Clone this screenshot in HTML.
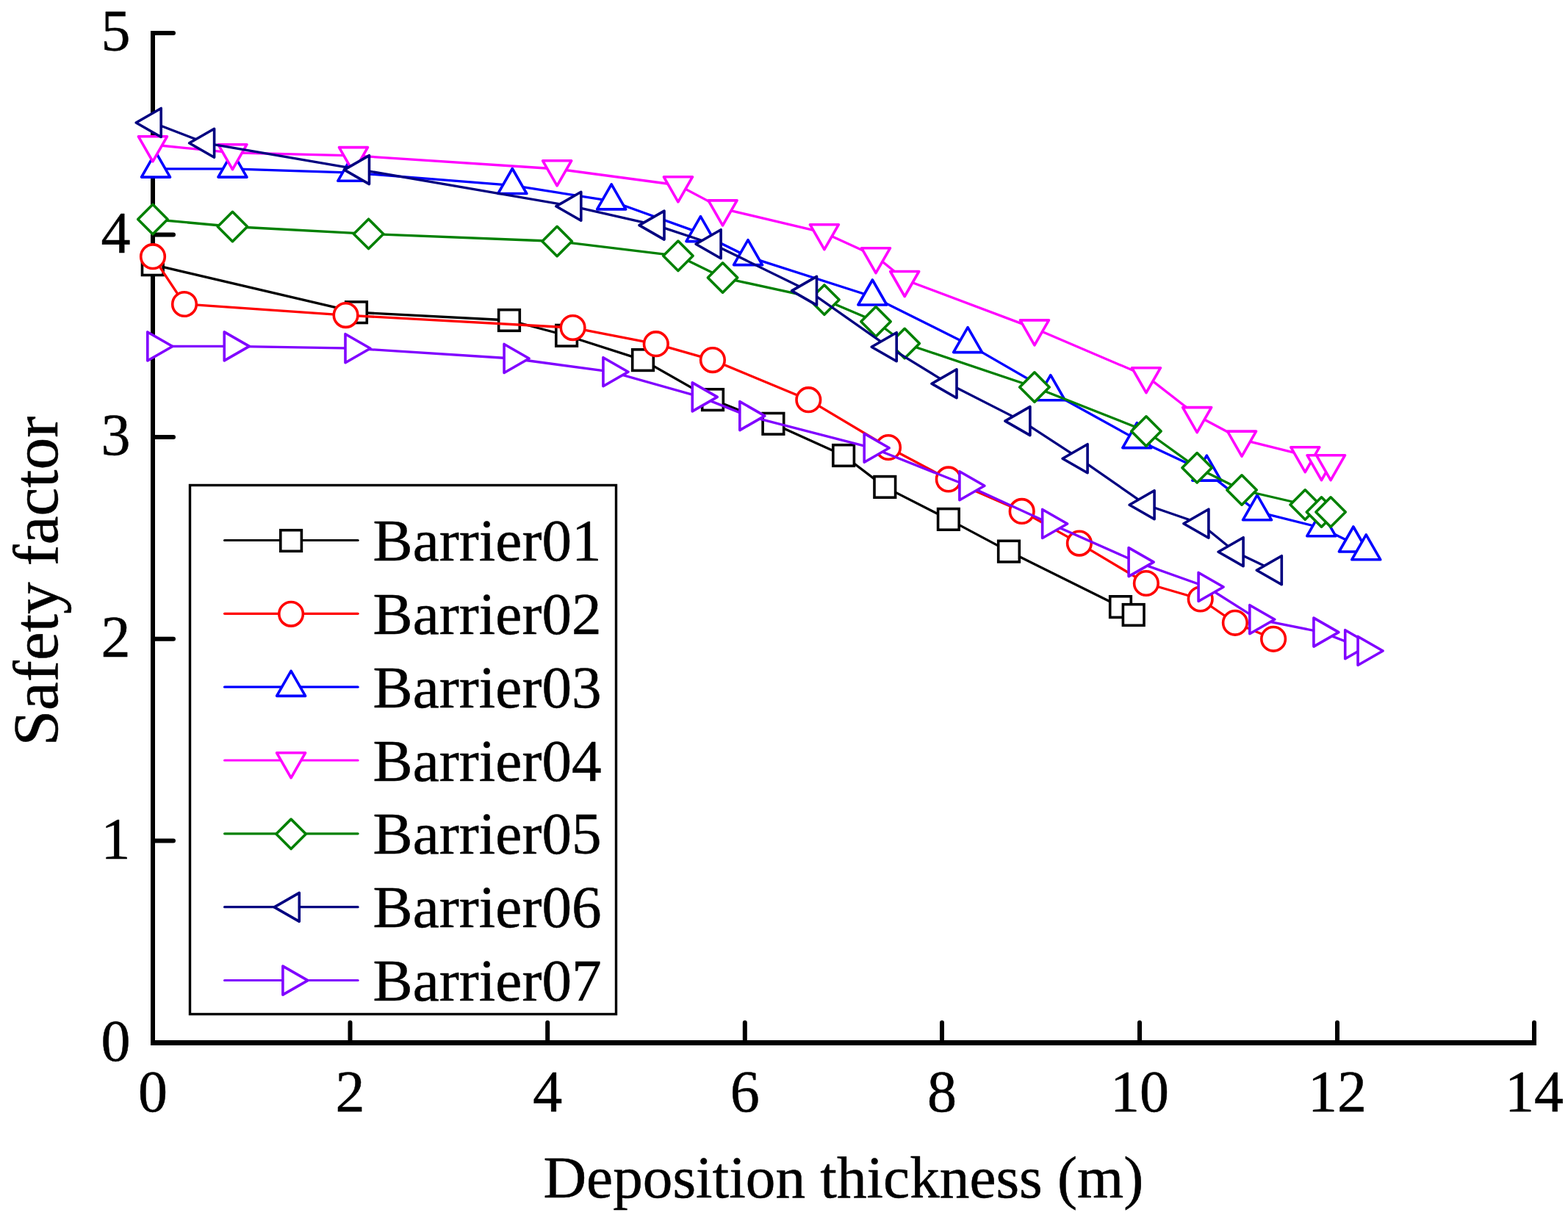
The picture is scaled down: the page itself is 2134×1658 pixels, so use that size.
<!DOCTYPE html>
<html lang="en"><head><meta charset="utf-8"><title>Safety factor vs. deposition thickness</title>
<style>html,body{margin:0;padding:0;background:#fff}body{width:2134px;height:1658px;overflow:hidden}svg{display:block}text{font-family:'Liberation Serif', 'DejaVu Serif', serif;font-size:80px;fill:#000;stroke:#000;stroke-width:0.5px;stroke-linejoin:round}</style>
</head><body>
<svg width="2134" height="1658" viewBox="0 0 2134 1658">
<rect width="2134" height="1658" fill="#fff"/>
<g id="axes" stroke="#000" fill="none" stroke-linecap="round" stroke-linejoin="round">
<path d="M208 42 V1423" stroke-width="6" stroke-linecap="butt"/>
<path d="M205 1419.5 H2091" stroke-width="7" stroke-linecap="butt"/>
<path d="M208 1144.6 H236 M208 869.7 H236 M208 595 H236 M208 319.6 H236 M208 45 H236 M476.5 1419.5 V1392 M745.2 1419.5 V1392 M1013.8 1419.5 V1392 M1282 1419.5 V1392 M1551 1419.5 V1392 M1820 1419.5 V1392 M2088 1419.5 V1392" stroke-width="6"/>
</g>
<g id="ylabels" text-anchor="end">
<text x="177.6" y="1443.7">0</text>
<text x="177.6" y="1168.8">1</text>
<text x="177.6" y="893.9">2</text>
<text x="177.6" y="619.2">3</text>
<text x="177.6" y="343.8">4</text>
<text x="177.6" y="69.2">5</text>
</g>
<g id="xlabels" text-anchor="middle">
<text x="208" y="1513.1">0</text>
<text x="476.5" y="1513.1">2</text>
<text x="745.2" y="1513.1">4</text>
<text x="1013.8" y="1513.1">6</text>
<text x="1282" y="1513.1">8</text>
<text x="1551" y="1513.1">10</text>
<text x="1820" y="1513.1">12</text>
<text x="2088" y="1513.1">14</text>
</g>
<text id="xtitle" x="1147.9" y="1629.6" text-anchor="middle" textLength="817" lengthAdjust="spacingAndGlyphs">Deposition thickness (m)</text>
<text id="ytitle" transform="translate(78.1 1015.6) rotate(-90)" style="font-size:86.67px" textLength="449" lengthAdjust="spacingAndGlyphs">Safety factor</text>
<g id="barrier01">
<polyline fill="none" stroke="#000000" stroke-width="3.3" stroke-linejoin="round" points="207.8,360.2 485,425.2 693,436 771.1,456.8 875,490.1 970,544.1 1052.4,576.8 1148.1,620 1204.3,662.9 1290.9,706.9 1373,750.6 1525,826.1 1542.7,837"/>
<rect x="193.5" y="345.9" width="28.6" height="28.6" fill="#fff" stroke="#000000" stroke-width="3.6" stroke-linejoin="miter"/>
<rect x="470.7" y="410.9" width="28.6" height="28.6" fill="#fff" stroke="#000000" stroke-width="3.6" stroke-linejoin="miter"/>
<rect x="678.7" y="421.7" width="28.6" height="28.6" fill="#fff" stroke="#000000" stroke-width="3.6" stroke-linejoin="miter"/>
<rect x="756.8" y="442.5" width="28.6" height="28.6" fill="#fff" stroke="#000000" stroke-width="3.6" stroke-linejoin="miter"/>
<rect x="860.7" y="475.8" width="28.6" height="28.6" fill="#fff" stroke="#000000" stroke-width="3.6" stroke-linejoin="miter"/>
<rect x="955.7" y="529.8" width="28.6" height="28.6" fill="#fff" stroke="#000000" stroke-width="3.6" stroke-linejoin="miter"/>
<rect x="1038.1" y="562.5" width="28.6" height="28.6" fill="#fff" stroke="#000000" stroke-width="3.6" stroke-linejoin="miter"/>
<rect x="1133.8" y="605.7" width="28.6" height="28.6" fill="#fff" stroke="#000000" stroke-width="3.6" stroke-linejoin="miter"/>
<rect x="1190" y="648.6" width="28.6" height="28.6" fill="#fff" stroke="#000000" stroke-width="3.6" stroke-linejoin="miter"/>
<rect x="1276.6" y="692.6" width="28.6" height="28.6" fill="#fff" stroke="#000000" stroke-width="3.6" stroke-linejoin="miter"/>
<rect x="1358.7" y="736.3" width="28.6" height="28.6" fill="#fff" stroke="#000000" stroke-width="3.6" stroke-linejoin="miter"/>
<rect x="1510.7" y="811.8" width="28.6" height="28.6" fill="#fff" stroke="#000000" stroke-width="3.6" stroke-linejoin="miter"/>
<rect x="1528.4" y="822.7" width="28.6" height="28.6" fill="#fff" stroke="#000000" stroke-width="3.6" stroke-linejoin="miter"/>
</g>
<g id="barrier02">
<polyline fill="none" stroke="#ff0000" stroke-width="3.3" stroke-linejoin="round" points="208,349.2 251,414 470.6,429.1 779.6,446.1 892.8,468.2 969.9,490.1 1100.3,544.2 1209,609 1290.8,652.4 1390.7,695.9 1468.9,739.6 1559.9,794 1633.7,815.5 1680.9,847.8 1733.1,869.8"/>
<circle cx="208" cy="349.2" r="16.3" fill="#fff" stroke="#ff0000" stroke-width="3.6" stroke-linejoin="round"/>
<circle cx="251" cy="414" r="16.3" fill="#fff" stroke="#ff0000" stroke-width="3.6" stroke-linejoin="round"/>
<circle cx="470.6" cy="429.1" r="16.3" fill="#fff" stroke="#ff0000" stroke-width="3.6" stroke-linejoin="round"/>
<circle cx="779.6" cy="446.1" r="16.3" fill="#fff" stroke="#ff0000" stroke-width="3.6" stroke-linejoin="round"/>
<circle cx="892.8" cy="468.2" r="16.3" fill="#fff" stroke="#ff0000" stroke-width="3.6" stroke-linejoin="round"/>
<circle cx="969.9" cy="490.1" r="16.3" fill="#fff" stroke="#ff0000" stroke-width="3.6" stroke-linejoin="round"/>
<circle cx="1100.3" cy="544.2" r="16.3" fill="#fff" stroke="#ff0000" stroke-width="3.6" stroke-linejoin="round"/>
<circle cx="1209" cy="609" r="16.3" fill="#fff" stroke="#ff0000" stroke-width="3.6" stroke-linejoin="round"/>
<circle cx="1290.8" cy="652.4" r="16.3" fill="#fff" stroke="#ff0000" stroke-width="3.6" stroke-linejoin="round"/>
<circle cx="1390.7" cy="695.9" r="16.3" fill="#fff" stroke="#ff0000" stroke-width="3.6" stroke-linejoin="round"/>
<circle cx="1468.9" cy="739.6" r="16.3" fill="#fff" stroke="#ff0000" stroke-width="3.6" stroke-linejoin="round"/>
<circle cx="1559.9" cy="794" r="16.3" fill="#fff" stroke="#ff0000" stroke-width="3.6" stroke-linejoin="round"/>
<circle cx="1633.7" cy="815.5" r="16.3" fill="#fff" stroke="#ff0000" stroke-width="3.6" stroke-linejoin="round"/>
<circle cx="1680.9" cy="847.8" r="16.3" fill="#fff" stroke="#ff0000" stroke-width="3.6" stroke-linejoin="round"/>
<circle cx="1733.1" cy="869.8" r="16.3" fill="#fff" stroke="#ff0000" stroke-width="3.6" stroke-linejoin="round"/>
</g>
<g id="barrier03">
<polyline fill="none" stroke="#0000ff" stroke-width="3.3" stroke-linejoin="round" points="212,229.9 316.45,229.9 479.3,235.1 697.3,252.3 832.15,273.7 953.45,317.4 1018,349.4 1187.4,403.8 1317.1,468.4 1429.85,533.5 1547.3,598.4 1642.3,642.9 1711,696.6 1798.3,718.5 1841.9,739.8 1859.25,750.6"/>
<polygon points="212,207.1 231.5,241.1 192.5,241.1" fill="#fff" stroke="#0000ff" stroke-width="3.6" stroke-linejoin="round"/>
<polygon points="316.45,207.1 335.95,241.1 296.95,241.1" fill="#fff" stroke="#0000ff" stroke-width="3.6" stroke-linejoin="round"/>
<polygon points="479.3,212.3 498.8,246.3 459.8,246.3" fill="#fff" stroke="#0000ff" stroke-width="3.6" stroke-linejoin="round"/>
<polygon points="697.3,229.5 716.8,263.5 677.8,263.5" fill="#fff" stroke="#0000ff" stroke-width="3.6" stroke-linejoin="round"/>
<polygon points="832.15,250.9 851.65,284.9 812.65,284.9" fill="#fff" stroke="#0000ff" stroke-width="3.6" stroke-linejoin="round"/>
<polygon points="953.45,294.6 972.95,328.6 933.95,328.6" fill="#fff" stroke="#0000ff" stroke-width="3.6" stroke-linejoin="round"/>
<polygon points="1018,326.6 1037.5,360.6 998.5,360.6" fill="#fff" stroke="#0000ff" stroke-width="3.6" stroke-linejoin="round"/>
<polygon points="1187.4,381 1206.9,415 1167.9,415" fill="#fff" stroke="#0000ff" stroke-width="3.6" stroke-linejoin="round"/>
<polygon points="1317.1,445.6 1336.6,479.6 1297.6,479.6" fill="#fff" stroke="#0000ff" stroke-width="3.6" stroke-linejoin="round"/>
<polygon points="1429.85,510.7 1449.35,544.7 1410.35,544.7" fill="#fff" stroke="#0000ff" stroke-width="3.6" stroke-linejoin="round"/>
<polygon points="1547.3,575.6 1566.8,609.6 1527.8,609.6" fill="#fff" stroke="#0000ff" stroke-width="3.6" stroke-linejoin="round"/>
<polygon points="1642.3,620.1 1661.8,654.1 1622.8,654.1" fill="#fff" stroke="#0000ff" stroke-width="3.6" stroke-linejoin="round"/>
<polygon points="1711,673.8 1730.5,707.8 1691.5,707.8" fill="#fff" stroke="#0000ff" stroke-width="3.6" stroke-linejoin="round"/>
<polygon points="1798.3,695.7 1817.8,729.7 1778.8,729.7" fill="#fff" stroke="#0000ff" stroke-width="3.6" stroke-linejoin="round"/>
<polygon points="1841.9,717 1861.4,751 1822.4,751" fill="#fff" stroke="#0000ff" stroke-width="3.6" stroke-linejoin="round"/>
<polygon points="1859.25,727.8 1878.75,761.8 1839.75,761.8" fill="#fff" stroke="#0000ff" stroke-width="3.6" stroke-linejoin="round"/>
</g>
<g id="barrier04">
<polyline fill="none" stroke="#ff00ff" stroke-width="3.3" stroke-linejoin="round" points="207.9,197 316.45,207.9 481,211.8 758.15,230 922.9,252 983.55,284.1 1121.9,316.9 1192,348.9 1231.2,380.7 1407.95,447.1 1559.95,511.9 1629.15,565.8 1690.05,598.3 1776.25,619.9 1798.5,630.9 1811.05,630.9"/>
<polygon points="207.9,219.8 227.4,185.8 188.4,185.8" fill="#fff" stroke="#ff00ff" stroke-width="3.6" stroke-linejoin="round"/>
<polygon points="316.45,230.7 335.95,196.7 296.95,196.7" fill="#fff" stroke="#ff00ff" stroke-width="3.6" stroke-linejoin="round"/>
<polygon points="481,234.6 500.5,200.6 461.5,200.6" fill="#fff" stroke="#ff00ff" stroke-width="3.6" stroke-linejoin="round"/>
<polygon points="758.15,252.8 777.65,218.8 738.65,218.8" fill="#fff" stroke="#ff00ff" stroke-width="3.6" stroke-linejoin="round"/>
<polygon points="922.9,274.8 942.4,240.8 903.4,240.8" fill="#fff" stroke="#ff00ff" stroke-width="3.6" stroke-linejoin="round"/>
<polygon points="983.55,306.9 1003.05,272.9 964.05,272.9" fill="#fff" stroke="#ff00ff" stroke-width="3.6" stroke-linejoin="round"/>
<polygon points="1121.9,339.7 1141.4,305.7 1102.4,305.7" fill="#fff" stroke="#ff00ff" stroke-width="3.6" stroke-linejoin="round"/>
<polygon points="1192,371.7 1211.5,337.7 1172.5,337.7" fill="#fff" stroke="#ff00ff" stroke-width="3.6" stroke-linejoin="round"/>
<polygon points="1231.2,403.5 1250.7,369.5 1211.7,369.5" fill="#fff" stroke="#ff00ff" stroke-width="3.6" stroke-linejoin="round"/>
<polygon points="1407.95,469.9 1427.45,435.9 1388.45,435.9" fill="#fff" stroke="#ff00ff" stroke-width="3.6" stroke-linejoin="round"/>
<polygon points="1559.95,534.7 1579.45,500.7 1540.45,500.7" fill="#fff" stroke="#ff00ff" stroke-width="3.6" stroke-linejoin="round"/>
<polygon points="1629.15,588.6 1648.65,554.6 1609.65,554.6" fill="#fff" stroke="#ff00ff" stroke-width="3.6" stroke-linejoin="round"/>
<polygon points="1690.05,621.1 1709.55,587.1 1670.55,587.1" fill="#fff" stroke="#ff00ff" stroke-width="3.6" stroke-linejoin="round"/>
<polygon points="1776.25,642.7 1795.75,608.7 1756.75,608.7" fill="#fff" stroke="#ff00ff" stroke-width="3.6" stroke-linejoin="round"/>
<polygon points="1798.5,653.7 1818,619.7 1779,619.7" fill="#fff" stroke="#ff00ff" stroke-width="3.6" stroke-linejoin="round"/>
<polygon points="1811.05,653.7 1830.55,619.7 1791.55,619.7" fill="#fff" stroke="#ff00ff" stroke-width="3.6" stroke-linejoin="round"/>
</g>
<g id="barrier05">
<polyline fill="none" stroke="#008000" stroke-width="3.3" stroke-linejoin="round" points="207.9,298.5 316.45,308.5 501.6,318.4 758.15,328.5 922.9,348.3 983.55,378 1121.9,408.1 1192,437.8 1231.2,467.5 1407.95,527 1559.95,587 1629.15,636.8 1690.05,667 1776.25,687 1798.5,697 1811.05,697"/>
<polygon points="207.9,278.3 228.1,298.5 207.9,318.7 187.7,298.5" fill="#fff" stroke="#008000" stroke-width="3.6" stroke-linejoin="round"/>
<polygon points="316.45,288.3 336.65,308.5 316.45,328.7 296.25,308.5" fill="#fff" stroke="#008000" stroke-width="3.6" stroke-linejoin="round"/>
<polygon points="501.6,298.2 521.8,318.4 501.6,338.6 481.4,318.4" fill="#fff" stroke="#008000" stroke-width="3.6" stroke-linejoin="round"/>
<polygon points="758.15,308.3 778.35,328.5 758.15,348.7 737.95,328.5" fill="#fff" stroke="#008000" stroke-width="3.6" stroke-linejoin="round"/>
<polygon points="922.9,328.1 943.1,348.3 922.9,368.5 902.7,348.3" fill="#fff" stroke="#008000" stroke-width="3.6" stroke-linejoin="round"/>
<polygon points="983.55,357.8 1003.75,378 983.55,398.2 963.35,378" fill="#fff" stroke="#008000" stroke-width="3.6" stroke-linejoin="round"/>
<polygon points="1121.9,387.9 1142.1,408.1 1121.9,428.3 1101.7,408.1" fill="#fff" stroke="#008000" stroke-width="3.6" stroke-linejoin="round"/>
<polygon points="1192,417.6 1212.2,437.8 1192,458 1171.8,437.8" fill="#fff" stroke="#008000" stroke-width="3.6" stroke-linejoin="round"/>
<polygon points="1231.2,447.3 1251.4,467.5 1231.2,487.7 1211,467.5" fill="#fff" stroke="#008000" stroke-width="3.6" stroke-linejoin="round"/>
<polygon points="1407.95,506.8 1428.15,527 1407.95,547.2 1387.75,527" fill="#fff" stroke="#008000" stroke-width="3.6" stroke-linejoin="round"/>
<polygon points="1559.95,566.8 1580.15,587 1559.95,607.2 1539.75,587" fill="#fff" stroke="#008000" stroke-width="3.6" stroke-linejoin="round"/>
<polygon points="1629.15,616.6 1649.35,636.8 1629.15,657 1608.95,636.8" fill="#fff" stroke="#008000" stroke-width="3.6" stroke-linejoin="round"/>
<polygon points="1690.05,646.8 1710.25,667 1690.05,687.2 1669.85,667" fill="#fff" stroke="#008000" stroke-width="3.6" stroke-linejoin="round"/>
<polygon points="1776.25,666.8 1796.45,687 1776.25,707.2 1756.05,687" fill="#fff" stroke="#008000" stroke-width="3.6" stroke-linejoin="round"/>
<polygon points="1798.5,676.8 1818.7,697 1798.5,717.2 1778.3,697" fill="#fff" stroke="#008000" stroke-width="3.6" stroke-linejoin="round"/>
<polygon points="1811.05,676.8 1831.25,697 1811.05,717.2 1790.85,697" fill="#fff" stroke="#008000" stroke-width="3.6" stroke-linejoin="round"/>
</g>
<g id="barrier06">
<polyline fill="none" stroke="#000080" stroke-width="3.3" stroke-linejoin="round" points="208,167 280.4,194.8 491.3,231.1 779.6,280.8 892.8,306.6 969.9,332.2 1100.3,395.9 1209,472.2 1290.8,522.3 1390.7,573.1 1468.9,624.2 1559.9,687.3 1633.7,712.7 1680.9,751.2 1733.1,776.2"/>
<polygon points="185.2,167 219.2,147.5 219.2,186.5" fill="#fff" stroke="#000080" stroke-width="3.6" stroke-linejoin="round"/>
<polygon points="257.6,194.8 291.6,175.3 291.6,214.3" fill="#fff" stroke="#000080" stroke-width="3.6" stroke-linejoin="round"/>
<polygon points="468.5,231.1 502.5,211.6 502.5,250.6" fill="#fff" stroke="#000080" stroke-width="3.6" stroke-linejoin="round"/>
<polygon points="756.8,280.8 790.8,261.3 790.8,300.3" fill="#fff" stroke="#000080" stroke-width="3.6" stroke-linejoin="round"/>
<polygon points="870,306.6 904,287.1 904,326.1" fill="#fff" stroke="#000080" stroke-width="3.6" stroke-linejoin="round"/>
<polygon points="947.1,332.2 981.1,312.7 981.1,351.7" fill="#fff" stroke="#000080" stroke-width="3.6" stroke-linejoin="round"/>
<polygon points="1077.5,395.9 1111.5,376.4 1111.5,415.4" fill="#fff" stroke="#000080" stroke-width="3.6" stroke-linejoin="round"/>
<polygon points="1186.2,472.2 1220.2,452.7 1220.2,491.7" fill="#fff" stroke="#000080" stroke-width="3.6" stroke-linejoin="round"/>
<polygon points="1268,522.3 1302,502.8 1302,541.8" fill="#fff" stroke="#000080" stroke-width="3.6" stroke-linejoin="round"/>
<polygon points="1367.9,573.1 1401.9,553.6 1401.9,592.6" fill="#fff" stroke="#000080" stroke-width="3.6" stroke-linejoin="round"/>
<polygon points="1446.1,624.2 1480.1,604.7 1480.1,643.7" fill="#fff" stroke="#000080" stroke-width="3.6" stroke-linejoin="round"/>
<polygon points="1537.1,687.3 1571.1,667.8 1571.1,706.8" fill="#fff" stroke="#000080" stroke-width="3.6" stroke-linejoin="round"/>
<polygon points="1610.9,712.7 1644.9,693.2 1644.9,732.2" fill="#fff" stroke="#000080" stroke-width="3.6" stroke-linejoin="round"/>
<polygon points="1658.1,751.2 1692.1,731.7 1692.1,770.7" fill="#fff" stroke="#000080" stroke-width="3.6" stroke-linejoin="round"/>
<polygon points="1710.3,776.2 1744.3,756.7 1744.3,795.7" fill="#fff" stroke="#000080" stroke-width="3.6" stroke-linejoin="round"/>
</g>
<g id="barrier07">
<polyline fill="none" stroke="#8000ff" stroke-width="3.3" stroke-linejoin="round" points="212,471.5 316.45,471.4 481.2,474.2 697.3,488 832.15,506.2 953.45,540.4 1018,566.1 1187.4,609.8 1317.1,661.3 1429.85,713 1547.3,765.1 1642.3,799 1712,843.2 1799.1,860.6 1841.9,877.2 1859.25,886"/>
<polygon points="234.8,471.5 200.8,452 200.8,491" fill="#fff" stroke="#8000ff" stroke-width="3.6" stroke-linejoin="round"/>
<polygon points="339.25,471.4 305.25,451.9 305.25,490.9" fill="#fff" stroke="#8000ff" stroke-width="3.6" stroke-linejoin="round"/>
<polygon points="504,474.2 470,454.7 470,493.7" fill="#fff" stroke="#8000ff" stroke-width="3.6" stroke-linejoin="round"/>
<polygon points="720.1,488 686.1,468.5 686.1,507.5" fill="#fff" stroke="#8000ff" stroke-width="3.6" stroke-linejoin="round"/>
<polygon points="854.95,506.2 820.95,486.7 820.95,525.7" fill="#fff" stroke="#8000ff" stroke-width="3.6" stroke-linejoin="round"/>
<polygon points="976.25,540.4 942.25,520.9 942.25,559.9" fill="#fff" stroke="#8000ff" stroke-width="3.6" stroke-linejoin="round"/>
<polygon points="1040.8,566.1 1006.8,546.6 1006.8,585.6" fill="#fff" stroke="#8000ff" stroke-width="3.6" stroke-linejoin="round"/>
<polygon points="1210.2,609.8 1176.2,590.3 1176.2,629.3" fill="#fff" stroke="#8000ff" stroke-width="3.6" stroke-linejoin="round"/>
<polygon points="1339.9,661.3 1305.9,641.8 1305.9,680.8" fill="#fff" stroke="#8000ff" stroke-width="3.6" stroke-linejoin="round"/>
<polygon points="1452.65,713 1418.65,693.5 1418.65,732.5" fill="#fff" stroke="#8000ff" stroke-width="3.6" stroke-linejoin="round"/>
<polygon points="1570.1,765.1 1536.1,745.6 1536.1,784.6" fill="#fff" stroke="#8000ff" stroke-width="3.6" stroke-linejoin="round"/>
<polygon points="1665.1,799 1631.1,779.5 1631.1,818.5" fill="#fff" stroke="#8000ff" stroke-width="3.6" stroke-linejoin="round"/>
<polygon points="1734.8,843.2 1700.8,823.7 1700.8,862.7" fill="#fff" stroke="#8000ff" stroke-width="3.6" stroke-linejoin="round"/>
<polygon points="1821.9,860.6 1787.9,841.1 1787.9,880.1" fill="#fff" stroke="#8000ff" stroke-width="3.6" stroke-linejoin="round"/>
<polygon points="1864.7,877.2 1830.7,857.7 1830.7,896.7" fill="#fff" stroke="#8000ff" stroke-width="3.6" stroke-linejoin="round"/>
<polygon points="1882.05,886 1848.05,866.5 1848.05,905.5" fill="#fff" stroke="#8000ff" stroke-width="3.6" stroke-linejoin="round"/>
</g>
<g id="legend">
<rect x="258.5" y="660.5" width="580" height="720" fill="#fff" stroke="#000" stroke-width="3.4"/>
<line x1="305.6" x2="487.1" y1="735.5" y2="735.5" stroke="#000000" stroke-width="3.2" stroke-linecap="round"/>
<rect x="381.8" y="721.7" width="28.6" height="28.6" fill="#fff" stroke="#000000" stroke-width="3.6" stroke-linejoin="miter"/>
<text x="507.6" y="763.1" textLength="311" lengthAdjust="spacingAndGlyphs">Barrier01</text>
<line x1="305.6" x2="487.1" y1="835.33" y2="835.33" stroke="#ff0000" stroke-width="3.2" stroke-linecap="round"/>
<circle cx="396.1" cy="835.83" r="16.3" fill="#fff" stroke="#ff0000" stroke-width="3.6" stroke-linejoin="round"/>
<text x="507.6" y="862.9" textLength="311" lengthAdjust="spacingAndGlyphs">Barrier02</text>
<line x1="305.6" x2="487.1" y1="935.16" y2="935.16" stroke="#0000ff" stroke-width="3.2" stroke-linecap="round"/>
<polygon points="396.1,913.36 415.6,947.36 376.6,947.36" fill="#fff" stroke="#0000ff" stroke-width="3.6" stroke-linejoin="round"/>
<text x="507.6" y="962.7" textLength="311" lengthAdjust="spacingAndGlyphs">Barrier03</text>
<line x1="305.6" x2="487.1" y1="1034.99" y2="1034.99" stroke="#ff00ff" stroke-width="3.2" stroke-linecap="round"/>
<polygon points="396.1,1058.79 415.6,1024.79 376.6,1024.79" fill="#fff" stroke="#ff00ff" stroke-width="3.6" stroke-linejoin="round"/>
<text x="507.6" y="1062.5" textLength="311" lengthAdjust="spacingAndGlyphs">Barrier04</text>
<line x1="305.6" x2="487.1" y1="1134.82" y2="1134.82" stroke="#008000" stroke-width="3.2" stroke-linecap="round"/>
<polygon points="396.1,1115.12 416.3,1135.32 396.1,1155.52 375.9,1135.32" fill="#fff" stroke="#008000" stroke-width="3.6" stroke-linejoin="round"/>
<text x="507.6" y="1162.3" textLength="311" lengthAdjust="spacingAndGlyphs">Barrier05</text>
<line x1="305.6" x2="487.1" y1="1234.65" y2="1234.65" stroke="#000080" stroke-width="3.2" stroke-linecap="round"/>
<polygon points="373.3,1234.85 407.3,1215.35 407.3,1254.35" fill="#fff" stroke="#000080" stroke-width="3.6" stroke-linejoin="round"/>
<text x="507.6" y="1262.1" textLength="311" lengthAdjust="spacingAndGlyphs">Barrier06</text>
<line x1="305.6" x2="487.1" y1="1334.48" y2="1334.48" stroke="#8000ff" stroke-width="3.2" stroke-linecap="round"/>
<polygon points="418.9,1334.68 384.9,1315.18 384.9,1354.18" fill="#fff" stroke="#8000ff" stroke-width="3.6" stroke-linejoin="round"/>
<text x="507.6" y="1361.9" textLength="311" lengthAdjust="spacingAndGlyphs">Barrier07</text>
</g>
</svg>
</body></html>
